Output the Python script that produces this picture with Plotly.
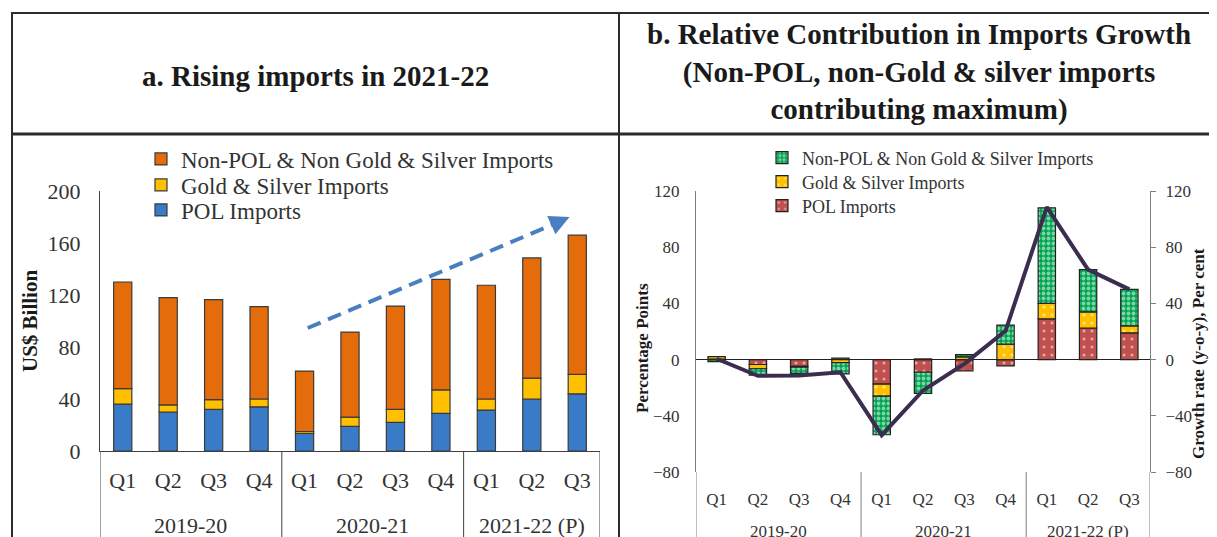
import plotly.graph_objects as go

# ---------------- data ----------------
quarters = ["Q1", "Q2", "Q3", "Q4", "Q1", "Q2", "Q3", "Q4", "Q1", "Q2", "Q3"]
years = ["2019-20", "2020-21", "2021-22 (P)"]
year_centers = [1.5, 5.5, 9.0]
year_dividers = [-0.5, 3.5, 7.5, 10.5]

# Panel a: US$ billion
pol_a = [36, 30, 32, 34, 13.5, 19, 22, 29, 31.5, 40, 44]
gold_a = [12, 5.5, 7.5, 6, 1.5, 7, 10, 18, 8.5, 16, 15]
nonpol_a = [82, 82.5, 77, 71, 46.5, 65.5, 79.5, 85, 87.5, 92.5, 107]

# Panel b: contribution (percentage points) and growth (per cent)
pol_b = [0.3, -3.5, -4.8, 1.0, -17.5, -9.0, -8.0, -4.5, 29.0, 22.5, 19.0]
gold_b = [1.8, -3.0, -0.5, -2.2, -8.5, 0.5, 2.0, 11.0, 11.0, 11.5, 5.0]
nonpol_b = [-1.5, -4.5, -4.5, -8.0, -27.5, -15.0, 1.5, 13.5, 68.0, 30.0, 26.0]
growth_b = [0.6, -11.5, -11.3, -9.0, -53.8, -22.0, -3.0, 20.5, 108.5, 64.0, 50.0]

ticks_a = [0, 40, 80, 120, 160, 200]
ticks_b = [-80, -40, 0, 40, 80, 120]

idx = list(range(len(quarters)))

W, H = 1217, 537
OFF = 8  # page body margin


def px(x):
    return (x - OFF) / W


def py(y):
    return 1 - (y - OFF) / H


FONT = "Liberation Serif"
TXT = "#333333"
EDGE = "#3a3a3a"

fig = go.Figure()

# ---- panel a bars ----
fig.add_trace(go.Bar(x=idx, y=pol_a, name="POL Imports",
                     marker=dict(color="#3A7BC8", line=dict(color=EDGE, width=1.2)),
                     width=0.4, xaxis="x", yaxis="y", legend="legend3"))
fig.add_trace(go.Bar(x=idx, y=gold_a, name="Gold & Silver Imports",
                     marker=dict(color="#FFC000", line=dict(color=EDGE, width=1.2)),
                     width=0.4, xaxis="x", yaxis="y", legend="legend2"))
fig.add_trace(go.Bar(x=idx, y=nonpol_a, name="Non-POL & Non Gold & Silver Imports",
                     marker=dict(color="#E46C0A", line=dict(color=EDGE, width=1.2)),
                     width=0.4, xaxis="x", yaxis="y", legend="legend"))

# ---- panel b bars ----
fig.add_trace(go.Bar(x=idx, y=pol_b, name="POL Imports",
                     marker=dict(color="#C0504D", line=dict(color="#222222", width=1.2),
                                 pattern=dict(shape=".", fgcolor="white", size=8, solidity=0.12)),
                     width=0.42, xaxis="x2", yaxis="y3", legend="legend6"))
fig.add_trace(go.Bar(x=idx, y=gold_b, name="Gold & Silver Imports",
                     marker=dict(color="#FFC000", line=dict(color="#222222", width=1.2),
                                 pattern=dict(shape=".", fgcolor="white", size=8, solidity=0.12)),
                     width=0.42, xaxis="x2", yaxis="y3", legend="legend5"))
fig.add_trace(go.Bar(x=idx, y=nonpol_b, name="Non-POL & Non Gold & Silver Imports",
                     marker=dict(color="#00A550", line=dict(color="#222222", width=1.2),
                                 pattern=dict(shape=".", fgcolor="white", size=5, solidity=0.45)),
                     width=0.42, xaxis="x2", yaxis="y3", legend="legend4"))
fig.add_trace(go.Scatter(x=idx, y=growth_b, mode="lines", name="Growth",
                         line=dict(color="#3A2D4F", width=4), showlegend=False,
                         xaxis="x2", yaxis="y4"))

shapes = []
annotations = []

# ---- table frame ----
line_col = "#2b2b2b"
shapes += [
    dict(type="line", xref="paper", yref="paper", x0=px(11), x1=1.02, y0=py(13), y1=py(13),
         line=dict(color=line_col, width=2)),
    dict(type="line", xref="paper", yref="paper", x0=px(11), x1=1.02, y0=py(134), y1=py(134),
         line=dict(color=line_col, width=3)),
    dict(type="line", xref="paper", yref="paper", x0=px(12), x1=px(12), y0=-0.05, y1=py(12),
         line=dict(color=line_col, width=2)),
    dict(type="line", xref="paper", yref="paper", x0=px(619), x1=px(619), y0=-0.05, y1=py(12),
         line=dict(color=line_col, width=2)),
]

# ---- category group boxes ----
for d in year_dividers:
    shapes.append(dict(type="line", xref="x", yref="paper", x0=d, x1=d, y0=-0.05, y1=py(451),
                       line=dict(color="#404040", width=1)))
    shapes.append(dict(type="line", xref="x2", yref="paper", x0=d, x1=d, y0=-0.05, y1=py(472),
                       line=dict(color="#7f7f7f", width=1)))

# ---- year labels ----
for yr, c in zip(years, year_centers):
    annotations.append(dict(text=yr, x=c, xref="x", y=py(525), yref="paper", showarrow=False,
                            xanchor="center", yanchor="middle",
                            font=dict(family=FONT, size=22, color=TXT)))
    annotations.append(dict(text=yr, x=c, xref="x2", y=py(531), yref="paper", showarrow=False,
                            xanchor="center", yanchor="middle",
                            font=dict(family=FONT, size=17, color=TXT)))

# ---- titles ----
annotations.append(dict(text="<b>a. Rising imports in 2021-22</b>", x=px(315), y=py(76),
                        xref="paper", yref="paper", xanchor="center", yanchor="middle",
                        showarrow=False, font=dict(family=FONT, size=29, color="#1a1a1a")))
annotations.append(dict(text="<b>b. Relative Contribution in Imports Growth<br>"
                             "(Non-POL, non-Gold &amp; silver imports<br>contributing maximum)</b>",
                        x=px(919), y=py(72), xref="paper", yref="paper", xanchor="center",
                        yanchor="middle", showarrow=False, align="center",
                        font=dict(family=FONT, size=29, color="#1a1a1a")))

# ---- axis titles ----
annotations.append(dict(text="<b>US$ Billion</b>", x=px(30), y=py(321), xref="paper", yref="paper",
                        textangle=-90, xanchor="center", yanchor="middle",
                        showarrow=False, font=dict(family=FONT, size=21, color="#1a1a1a")))
annotations.append(dict(text="<b>Percentage Points</b>", x=px(642), y=py(348), xref="paper",
                        yref="paper", textangle=-90, xanchor="center", yanchor="middle",
                        showarrow=False, font=dict(family=FONT, size=17, color="#1a1a1a")))
annotations.append(dict(text="<b>Growth rate (y-o-y), Per cent</b>", x=px(1198), y=py(354),
                        xref="paper", yref="paper", textangle=-90, xanchor="center", yanchor="middle",
                        showarrow=False, font=dict(family=FONT, size=17, color="#1a1a1a")))

# ---- trend arrow (dashed) ----
shapes.append(dict(type="line", xref="x", yref="y", x0=4.07, y0=94.6, x1=9.55, y1=175.5,
                   line=dict(color="#4A7EC2", width=4, dash="14px,8px")))
annotations.append(dict(x=9.83, y=180, xref="x", yref="y", ax=9.45, ay=174, axref="x", ayref="y",
                        text="", showarrow=True, arrowhead=2, arrowsize=1, arrowwidth=4,
                        arrowcolor="#4A7EC2"))


def leg(xr, yr, size):
    return dict(x=px(xr), y=py(yr), xanchor="left", yanchor="middle",
                font=dict(family=FONT, size=size, color=TXT), bgcolor="rgba(0,0,0,0)",
                itemwidth=30, borderwidth=0)


fig.update_layout(
    width=W, height=H,
    margin=dict(l=0, r=0, t=0, b=0, pad=0),
    paper_bgcolor="white", plot_bgcolor="white",
    barmode="relative",
    font=dict(family=FONT, color=TXT),
    shapes=shapes, annotations=annotations,
    xaxis=dict(domain=[px(100), px(600)], range=[-0.5, 10.5], tickvals=idx, ticktext=quarters,
               showline=True, linecolor="#404040", linewidth=1, ticks="", showgrid=False,
               zeroline=False, automargin=False,
               tickfont=dict(family=FONT, size=22, color=TXT), ticklabelstandoff=10, anchor="y"),
    yaxis=dict(domain=[py(451), py(191)], range=[0, 200], tickvals=ticks_a, showline=True,
               linecolor="#404040", linewidth=1, ticks="", showgrid=False, zeroline=False,
               anchor="x", automargin=False,
               tickfont=dict(family=FONT, size=22, color=TXT), ticklabelstandoff=14),
    xaxis2=dict(domain=[px(696), px(1150)], range=[-0.5, 10.5], tickvals=idx, ticktext=quarters,
                showline=False, ticks="", showgrid=False, zeroline=False, anchor="y3",
                automargin=False,
                tickfont=dict(family=FONT, size=17, color=TXT), ticklabelstandoff=15),
    yaxis3=dict(domain=[py(472), py(191)], range=[-80, 120], tickvals=ticks_b, showline=True,
                linecolor="#7f7f7f", linewidth=1, ticks="", showgrid=False, zeroline=True,
                zerolinecolor="#222222", zerolinewidth=1, automargin=False,
                anchor="x2", tickfont=dict(family=FONT, size=17, color=TXT), ticklabelstandoff=12),
    yaxis4=dict(range=[-80, 120], tickvals=ticks_b, overlaying="y3", side="right", anchor="x2",
                showline=True, linecolor="#7f7f7f", linewidth=1, ticks="outside", ticklen=5,
                tickcolor="#7f7f7f", automargin=False,
                showgrid=False, zeroline=False, tickfont=dict(family=FONT, size=17, color=TXT),
                ticklabelstandoff=6),
    legend=leg(141, 159, 23),
    legend2=leg(141, 185, 23),
    legend3=leg(141, 210, 23),
    legend4=leg(762, 158, 18),
    legend5=leg(762, 182, 18),
    legend6=leg(762, 206, 18),
)

fig.write_html("out.html")
